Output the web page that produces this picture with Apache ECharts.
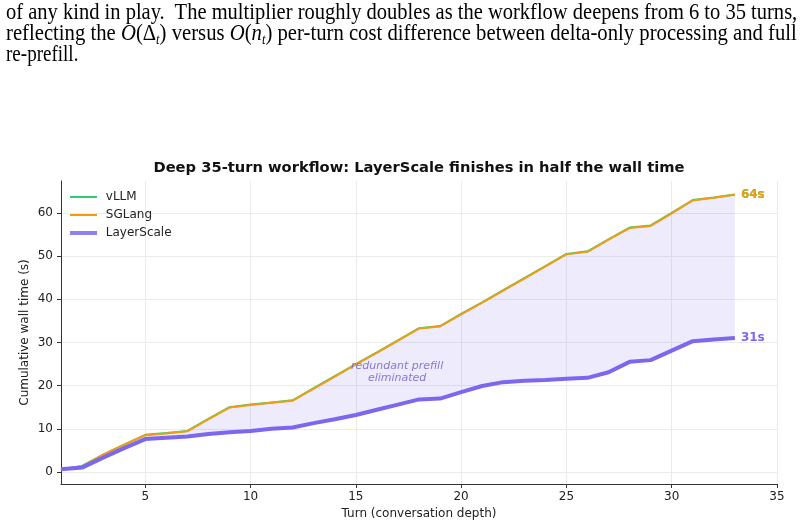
<!DOCTYPE html>
<html>
<head>
<meta charset="utf-8">
<script src="https://cdn.jsdelivr.net/npm/echarts@6/dist/echarts.min.js"></script>
<style>
  body { margin: 0; background: #fff; }
  #page { position: relative; width: 806px; height: 527px; overflow: hidden; }
  #main { position: absolute; left: 0; top: 0; width: 806px; height: 527px; }
  .line {
    position: absolute; left: 6px; white-space: nowrap;
    font-family: "Liberation Serif", "Times New Roman", serif; font-size: 23px; line-height: 21px;
    color: #000; transform-origin: 0 0;
  }
  .cal { font-style: italic; }
  sub { font-size: 14px; font-style: italic; line-height: 0; vertical-align: -4px; }
</style>
</head>
<body>
<div id="page">
  <div id="main"></div>
  <div class="line" data-w="791" style="top:0.5px">of any kind in play.&nbsp; The multiplier roughly doubles as the workflow deepens from 6 to 35 turns,</div>
  <div class="line" data-w="791" style="top:21.5px">reflecting the <span class="cal">O</span>(Δ<sub>t</sub>) versus <span class="cal">O</span>(<i>n</i><sub>t</sub>) per-turn cost difference between delta-only processing and full</div>
  <div class="line" data-w="72" style="top:42.8px">re-prefill.</div>
</div>
<script>
// paragraph above the figure: squeeze each line to the width seen in the scan
document.querySelectorAll(".line").forEach(el => {
  const sx = Number(el.dataset.w) / el.scrollWidth;
  el.style.transform = "scaleX(" + sx + ")";
});

// ---- data ----
const turns = [1, 2, 3, 4, 5, 6, 7, 8, 9, 10, 11, 12, 13, 14, 15, 16, 17, 18, 19, 20, 21, 22, 23, 24, 25, 26, 27, 28, 29, 30, 31, 32, 33];
const vllm = [0.6, 1.4, 4.0, 6.3, 8.6, 9.0, 9.5, 12.3, 15.0, 15.6, 16.1, 16.6, 19.4, 22.2, 25.0, 27.7, 30.5, 33.3, 33.8, 36.6, 39.3, 42.1, 44.9, 47.7, 50.5, 51.1, 53.9, 56.6, 57.1, 60.0, 63.0, 63.6, 64.3];
const sglang = [0.6, 1.3, 4.0, 6.3, 8.5, 8.9, 9.4, 12.2, 14.9, 15.5, 16.0, 16.5, 19.3, 22.1, 24.9, 27.6, 30.4, 33.2, 33.7, 36.5, 39.2, 42.0, 44.8, 47.6, 50.4, 51.0, 53.8, 56.5, 57.0, 59.9, 62.9, 63.5, 64.2];
const layerscale = [0.6, 1.0, 3.3, 5.5, 7.6, 7.9, 8.2, 8.8, 9.2, 9.5, 10.0, 10.3, 11.3, 12.2, 13.2, 14.4, 15.6, 16.8, 17.0, 18.5, 19.9, 20.8, 21.1, 21.3, 21.6, 21.8, 23.1, 25.5, 25.9, 28.1, 30.3, 30.7, 31.0];
const xTicks = [5, 10, 15, 20, 25, 30, 35];
const yTicks = [0, 10, 20, 30, 40, 50, 60];
const noteAt = [16.96, 23.1];

const colors = { vLLM: "#2ecc71", SGLang: "#f39c12", LayerScale: "#7b68ee" };
const font = "DejaVu Sans";

const pairs = ys => turns.map((t, i) => [t, ys[i]]);

function lineSeries(name, ys, width, z) {
  return {
    name: name, type: "line", data: pairs(ys), z: z,
    showSymbol: false, symbol: "none",
    lineStyle: { color: colors[name], width: width },
    itemStyle: { color: colors[name] },
    endLabel: {
      show: true,
      formatter: p => Math.round(p.value[1]) + "s",
      color: colors[name], fontFamily: font, fontWeight: "bold", fontSize: 12, distance: 6
    }
  };
}

function legendFor(name, top, h, opacity) {
  return {
    data: [{ name: name, itemStyle: { opacity: opacity } }], left: 70, top: top, padding: 0,
    icon: "rect", itemWidth: 27, itemHeight: h,
    formatter: " {name}", selectedMode: false,
    textStyle: { fontFamily: font, fontSize: 12, color: "#222" }
  };
}

// shaded gap between the baselines and LayerScale
function bandItem(params, api) {
  const upper = turns.map((t, i) => api.coord([t, sglang[i]]));
  const lower = turns.map((t, i) => api.coord([t, layerscale[i]])).reverse();
  return {
    type: "polygon",
    shape: { points: upper.concat(lower) },
    style: { fill: "rgba(123,104,238,0.13)" }
  };
}

const chart = echarts.init(document.getElementById("main"));
chart.setOption({
  animation: false,
  title: {
    text: "Deep 35-turn workflow: LayerScale finishes in half the wall time",
    left: 419, top: 161, textAlign: "center", padding: 0,
    textStyle: { fontFamily: font, fontSize: 14.7, fontWeight: "bold", color: "#111" }
  },
  legend: [
    legendFor("vLLM", 191, 2, 1),
    legendFor("SGLang", 209, 2, 1),
    legendFor("LayerScale", 227, 4, 0.85)
  ],
  grid: { left: 61, right: 29, top: 181, bottom: 43, outerBoundsMode: "none" },
  xAxis: {
    type: "value", min: 1, max: 35,
    name: "Turn (conversation depth)", nameLocation: "middle", nameGap: 24, nameMoveOverlap: false,
    nameTextStyle: { fontFamily: font, fontSize: 12, color: "#222" },
    axisLine: { onZero: false, lineStyle: { color: "#333", width: 1 } },
    axisTick: { show: true, length: 4, customValues: xTicks, lineStyle: { color: "#333" } },
    axisLabel: { customValues: xTicks, margin: 7, fontFamily: font, fontSize: 12, color: "#222" },
    splitLine: { show: true, lineStyle: { color: "#ebebeb", width: 1 } }
  },
  yAxis: {
    type: "value", min: -2.8, max: 67.4,
    name: "Cumulative wall time (s)", nameLocation: "middle", nameGap: 30, nameMoveOverlap: false,
    nameTextStyle: { fontFamily: font, fontSize: 12, color: "#222" },
    axisLine: { show: true, onZero: false, lineStyle: { color: "#333", width: 1 } },
    axisTick: { show: true, length: 4, customValues: yTicks, lineStyle: { color: "#333" } },
    axisLabel: { customValues: yTicks, margin: 8, fontFamily: font, fontSize: 12, color: "#222" },
    splitLine: { show: true, lineStyle: { color: "#ebebeb", width: 1 } }
  },
  series: [
    {
      name: "gap", type: "custom", data: [[turns[0], layerscale[0]]],
      renderItem: bandItem, silent: true, z: 1
    },
    lineSeries("vLLM", vllm, 2, 3),
    lineSeries("SGLang", sglang, 2, 4),
    lineSeries("LayerScale", layerscale, 4, 5),
    {
      name: "note", type: "scatter", data: [noteAt], symbolSize: 0, silent: true, z: 6,
      label: {
        show: true, position: "inside", formatter: "redundant prefill\neliminated",
        fontFamily: font, fontSize: 11, fontStyle: "italic", color: "#6a5acd", lineHeight: 12
      }
    }
  ]
});
</script>
</body>
</html>
